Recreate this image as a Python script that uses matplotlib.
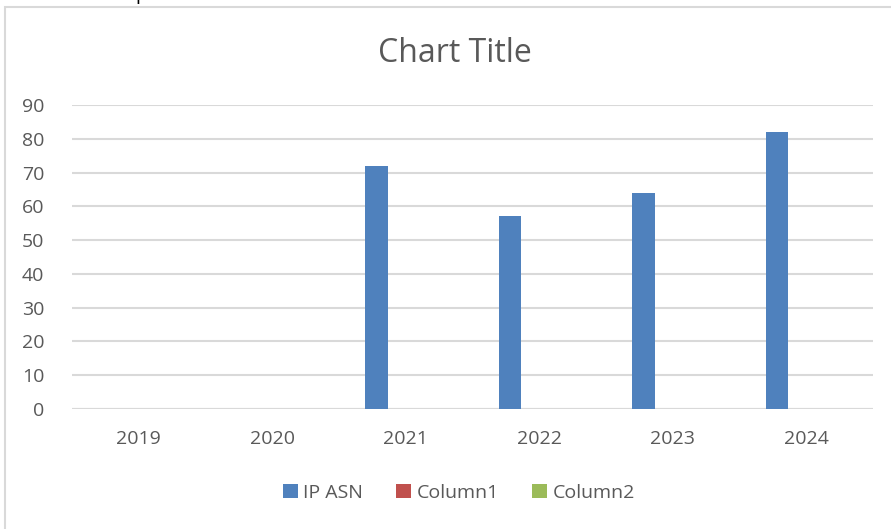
import numpy as np
import matplotlib
matplotlib.use("Agg")
import matplotlib.pyplot as plt
from matplotlib.patches import Patch, Rectangle

years = ["2019", "2020", "2021", "2022", "2023", "2024"]
ip_asn = [np.nan, np.nan, 72, 57, 64, 82]
column1 = [np.nan] * 6
column2 = [np.nan] * 6
series_names = ["IP ASN", "Column1", "Column2"]
colors = ["#4f81bd", "#c0504d", "#9bbb59"]

plt.rcParams["font.family"] = ["Open Sans", "DejaVu Sans"]
txt = "#595959"

fig = plt.figure(figsize=(8.91, 5.29), dpi=100)
ax = fig.add_axes([72 / 891, 120 / 529, 801 / 891, 304 / 529])

x = np.arange(len(years))
w = 0.17
offs = [-0.22, 0.0, 0.22]
for vals, off, c, name in zip([ip_asn, column1, column2], offs, colors, series_names):
    ax.bar(x + off, np.nan_to_num(vals), width=w, color=c, label=name, zorder=3)

ax.set_xlim(-0.5, len(years) - 0.5)
ax.set_ylim(0, 90)
ax.set_yticks(range(0, 91, 10))
ax.set_xticks(x)
ax.set_xticklabels(years)
ax.grid(axis="y", color="#d9d9d9", linewidth=1.5, zorder=0)
ax.tick_params(length=0, labelsize=14, colors=txt)
ax.tick_params(axis="y", pad=20)
ax.tick_params(axis="x", pad=15)
for s in ax.spines.values():
    s.set_visible(False)
ax.axhline(0, color="#d9d9d9", linewidth=1.5, zorder=1)

fig.text(455 / 891, 1 - 53 / 529, "Chart Title", ha="center", va="center",
         fontsize=23, color=txt)

handles = [Patch(facecolor=c, label=n) for c, n in zip(colors, series_names)]
fig.legend(handles=handles, loc="center", bbox_to_anchor=(459 / 891, 1 - 493 / 529),
           ncol=3, frameon=False, fontsize=14, labelcolor=txt,
           handlelength=0.75, handleheight=0.75, handletextpad=0.3, columnspacing=1.7)

# chart border (cropped screenshot)
fig.patches.append(Rectangle((5 / 891, -0.1), 1.2, 1 - 7 / 529 + 0.1, transform=fig.transFigure,
                             fill=False, edgecolor="#d9d9d9", linewidth=1.5))
fig.text(141 / 891, 1.0, "p", ha="center", va="baseline", fontsize=14, color="black")

fig.savefig("out.png", dpi=100)
